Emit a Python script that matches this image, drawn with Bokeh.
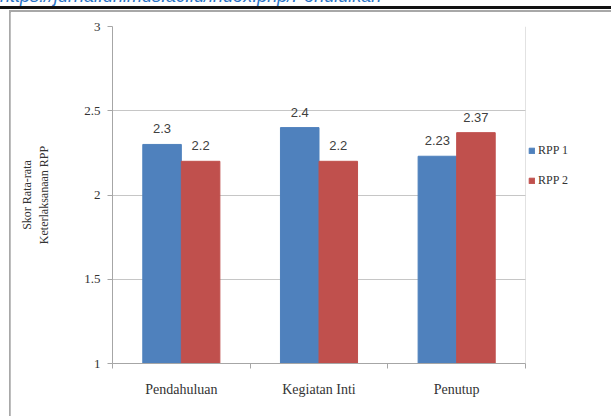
from bokeh.plotting import figure
from bokeh.layouts import column, row
from bokeh.models import (ColumnDataSource, FixedTicker, Legend, LegendItem,
                          LabelSet, Div)
from bokeh.core.properties import value
from bokeh.embed import file_html
from bokeh.resources import INLINE

# Scores per lesson-plan stage
categories = ["Pendahuluan", "Kegiatan Inti", "Penutup"]
rpp1 = [2.3, 2.4, 2.23]
rpp2 = [2.2, 2.2, 2.37]
series_names = ["RPP 1", "RPP 2"]
y_ticks = [1, 1.5, 2, 2.5, 3]
header_url = "https://jurnal.unimus.ac.id/index.php/Pendidikan"

BLUE = "#4F81BD"
RED = "#C0504D"
SERIF = "Liberation Serif"
SANS = "Liberation Sans"

# plotting area holds the three groups plus a strip on the right for the legend
PLOT_W = 601
LEFT = 102
FRAME_W = PLOT_W - LEFT
GROUP_PX = 413 / 3
x_end = FRAME_W / GROUP_PX

centers = [i + 0.5 for i in range(len(categories))]
bar_w = 0.28
src1 = ColumnDataSource(dict(x=[c - bar_w / 2 for c in centers], top=rpp1,
                             label=[f"{v:g}" for v in rpp1]))
src2 = ColumnDataSource(dict(x=[c + bar_w / 2 for c in centers], top=rpp2,
                             label=[f"{v:g}" for v in rpp2]))

p = figure(width=PLOT_W, height=404, output_backend="svg", toolbar_location=None,
           x_range=(0, x_end), y_range=(1, 3),
           min_border_left=LEFT, min_border_right=0,
           min_border_top=14, min_border_bottom=53, margin=0)
p.outline_line_color = None
p.background_fill_color = "white"
p.border_fill_color = "white"

r1 = p.vbar(x="x", top="top", bottom=1, width=bar_w, source=src1,
            fill_color=BLUE, line_color=BLUE)
r2 = p.vbar(x="x", top="top", bottom=1, width=bar_w, source=src2,
            fill_color=RED, line_color=RED)

for src in (src1, src2):
    p.add_layout(LabelSet(x="x", y="top", text="label", source=src,
                          text_align="center", text_baseline="bottom",
                          y_offset=11, text_font=value(SANS),
                          text_font_size=value("13px"),
                          text_color="#404040"))

# x axis: category names at centres, tick marks at group boundaries
xa = p.xaxis[0]
xa.bounds = (0, 3)
xa.ticker = FixedTicker(ticks=centers, minor_ticks=[0, 1, 2, 3])
xa.major_label_overrides = {c: name for c, name in zip(centers, categories)}
xa.major_tick_line_color = None
xa.minor_tick_out = 5
xa.minor_tick_in = 0
xa.minor_tick_line_color = "#a6a6a6"
xa.axis_line_color = "#a6a6a6"
xa.major_label_standoff = 12
xa.major_label_text_font = SERIF
xa.major_label_text_font_size = "14px"
xa.major_label_text_color = "#333333"

ya = p.yaxis[0]
ya.ticker = FixedTicker(ticks=y_ticks)
ya.major_label_overrides = {1: "1", 1.5: "1.5", 2: "2", 2.5: "2.5", 3: "3"}
ya.minor_tick_line_color = None
ya.major_tick_out = 5
ya.major_tick_in = 0
ya.major_tick_line_color = "#a6a6a6"
ya.axis_line_color = "#a6a6a6"
ya.major_label_standoff = 7
ya.major_label_text_font = SERIF
ya.major_label_text_font_size = "13px"
ya.major_label_text_color = "#333333"
ya.axis_label = "Skor Rata-rata\nKeterlaksanaan RPP"
ya.axis_label_standoff = 30
ya.axis_label_text_font = SERIF
ya.axis_label_text_font_size = "12px"
ya.axis_label_text_font_style = "normal"
ya.axis_label_text_color = "#333333"
ya.axis_label_text_align = "center"

# horizontal gridlines over the groups only; a faint edge closes the plot area
p.ygrid.grid_line_color = "#c6c6c6"
p.ygrid.ticker = FixedTicker(ticks=y_ticks)
p.ygrid.cross_bounds = (0, 3)
p.xgrid.ticker = FixedTicker(ticks=[3])
p.xgrid.grid_line_color = "#e2e2e2"
p.xgrid.cross_bounds = (1, 3)

legend = Legend(items=[LegendItem(label=series_names[0], renderers=[r1]),
                       LegendItem(label=series_names[1], renderers=[r2])],
                location=(416, 175), orientation="vertical",
                glyph_width=7, glyph_height=7, label_height=12,
                label_standoff=3, spacing=15, padding=0, margin=0,
                border_line_color=None, background_fill_alpha=0,
                label_text_font=SERIF, label_text_font_size="12px",
                label_text_color="#333333")
p.add_layout(legend)

# journal header strip with a rule underneath, then the chart's left frame edge
header = Div(width=611, height=12, margin=0, text=(
    '<div style="position:relative;width:611px;height:12px;overflow:hidden;'
    'background:white">'
    '<span style="position:absolute;left:0;top:-16px;white-space:nowrap;'
    'font-family:\'Liberation Sans\';font-style:italic;font-size:18px;'
    'color:#2A74C8">' + header_url + '</span>'
    '<div style="position:absolute;left:0;top:6px;width:611px;height:3px;'
    'background:#111"></div>'
    '<div style="position:absolute;left:9px;top:10px;width:602px;height:2px;'
    'background:#a8a8a8"></div></div>'))
left_edge = Div(width=10, height=404, margin=0, text=(
    '<div style="position:relative;width:10px;height:404px;background:white">'
    '<div style="position:absolute;left:9px;top:0;width:2px;height:404px;'
    'background:#a8a8a8"></div></div>'))

page = column(header, row(left_edge, p, margin=0, spacing=0),
              margin=0, spacing=0)

open("out.html", "w").write(file_html(page, INLINE))
